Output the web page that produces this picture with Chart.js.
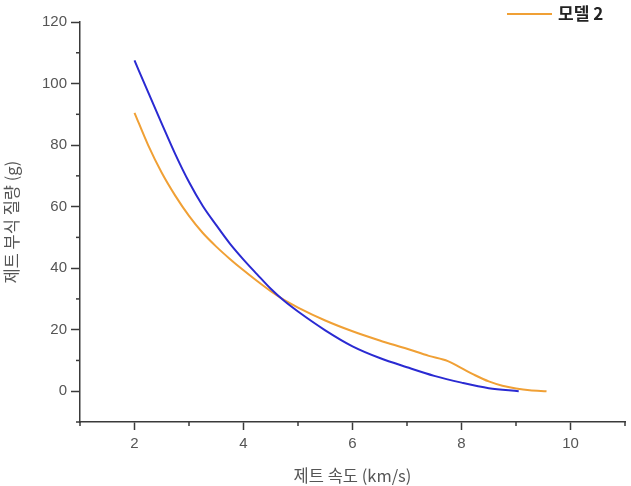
<!DOCTYPE html>
<html>
<head>
<meta charset="utf-8">
<script src="https://cdn.jsdelivr.net/npm/chart.js@4"></script>
<style>
  html, body { margin: 0; padding: 0; background: #fff; }
  #wrap { width: 631px; height: 486px; position: relative; }
</style>
</head>
<body>
<div id="wrap"><canvas id="c"></canvas></div>
<script>
// ---- data ----
const model1X = [2.0, 2.25, 2.5, 2.75, 3.0, 3.25, 3.5, 3.75, 4.0, 4.25, 4.5, 4.75, 5.0, 5.5, 6.0, 6.5, 7.0, 7.5, 8.0, 8.5, 9.05];
const model1Y = [107.5, 97.2, 87, 77, 68, 60.3, 54, 48, 42.8, 38, 33.3, 29.3, 25.9, 19.8, 14.6, 10.8, 7.8, 5, 2.8, 1.0, 0];
const model2X = [2.0, 2.25, 2.5, 2.75, 3.0, 3.25, 3.5, 3.75, 4.0, 4.25, 4.5, 4.75, 5.0, 5.5, 6.0, 6.5, 7.0, 7.4, 7.75, 8.0, 8.25, 8.5, 8.75, 9.0, 9.25, 9.56];
const model2Y = [90.5, 80, 71, 63.5, 57, 51.5, 47, 43, 39.3, 35.8, 32.5, 29.6, 27.2, 23, 19.5, 16.5, 13.8, 11.5, 9.8, 7.5, 5.2, 3.2, 1.8, 0.9, 0.3, 0];
const seriesNames = ['모델 1', '모델 2'];
const xTitle = '제트 속도 (km/s)';
const yTitle = '제트 부식 질량 (g)';
const xMajorTicks = [2, 4, 6, 8, 10];
const yMajorTicks = [0, 20, 40, 60, 80, 100, 120];

const toPts = (xs, ys) => xs.map((x, i) => ({ x: x, y: ys[i] }));

const axisColor = '#3a3a3a';
const tickFont = { family: 'Liberation Sans, Arial, sans-serif', size: 15 };
const titleFont = { family: 'Noto Sans CJK KR, sans-serif', size: 16.5 };

// minor ticks drawn halfway between major ticks using the scales
const minorTicks = {
  id: 'minorTicks',
  afterDraw(chart) {
    const ctx = chart.ctx;
    const xs = chart.scales.x, ys = chart.scales.y;
    ctx.save();
    ctx.strokeStyle = axisColor;
    ctx.lineWidth = 1.5;
    const xStep = xs.ticks[1].value - xs.ticks[0].value;
    for (let v = xs.ticks[0].value - xStep / 2; v <= xs.max + 1e-9; v += xStep) {
      if (v < xs.min - 1e-9) continue;
      const p = xs.getPixelForValue(v);
      ctx.beginPath(); ctx.moveTo(p, xs.top); ctx.lineTo(p, xs.top + 4); ctx.stroke();
    }
    const yStep = ys.ticks[1].value - ys.ticks[0].value;
    for (let v = ys.ticks[0].value - yStep / 2; v <= ys.max + 1e-9; v += yStep) {
      if (v < ys.min - 1e-9) continue;
      const p = ys.getPixelForValue(v);
      ctx.beginPath(); ctx.moveTo(ys.right, p); ctx.lineTo(ys.right - 4, p); ctx.stroke();
    }
    ctx.restore();
  }
};

// legend showing only the second series (as in the reference)
const legendPlugin = {
  id: 'singleLegend',
  afterDraw(chart) {
    const ds = chart.data.datasets[1];
    const ctx = chart.ctx;
    ctx.save();
    ctx.strokeStyle = ds.borderColor;
    ctx.lineWidth = 2;
    ctx.beginPath(); ctx.moveTo(507, 14); ctx.lineTo(552, 14); ctx.stroke();
    ctx.fillStyle = '#222';
    ctx.font = 'bold 17px "Noto Sans CJK KR", sans-serif';
    ctx.textBaseline = 'middle';
    ctx.textAlign = 'left';
    ctx.fillText(ds.label, 558, 14);
    ctx.restore();
  }
};

new Chart(document.getElementById('c'), {
  type: 'line',
  data: {
    datasets: [
      { label: seriesNames[0], data: toPts(model1X, model1Y), borderColor: '#2a2ad2', borderWidth: 2, pointRadius: 0, cubicInterpolationMode: 'monotone', fill: false },
      { label: seriesNames[1], data: toPts(model2X, model2Y), borderColor: '#f0a035', borderWidth: 2, pointRadius: 0, cubicInterpolationMode: 'monotone', fill: false }
    ]
  },
  options: {
    responsive: true,
    maintainAspectRatio: false,
    animation: false,
    layout: { padding: { top: 22, right: 6, bottom: 0, left: 0 } },
    plugins: { legend: { display: false }, tooltip: { enabled: false } },
    scales: {
      x: {
        type: 'linear', min: 1, max: 11,
        afterBuildTicks(s) { s.ticks = xMajorTicks.map(v => ({ value: v })); },
        ticks: { color: '#555', font: tickFont, padding: 5, maxRotation: 0 },
        grid: { drawOnChartArea: false, drawTicks: true, tickLength: 8, tickColor: axisColor, tickWidth: 1.5 },
        border: { display: true, color: axisColor, width: 1.5 },
        title: { display: true, text: xTitle, color: '#555', font: titleFont, padding: { top: 0, bottom: 0 } },
        afterFit(s) { s.height = 64; }
      },
      y: {
        min: -10, max: 120,
        afterBuildTicks(s) { s.ticks = yMajorTicks.map(v => ({ value: v })); },
        ticks: { color: '#555', font: tickFont, padding: 4 },
        grid: { drawOnChartArea: false, drawTicks: true, tickLength: 9, tickColor: axisColor, tickWidth: 1.5 },
        border: { display: true, color: axisColor, width: 1.5 },
        title: { display: true, text: yTitle, color: '#555', font: titleFont, padding: { top: 2, bottom: 0 } },
        afterFit(s) { s.width = 80; }
      }
    }
  },
  plugins: [minorTicks, legendPlugin]
});
</script>
</body>
</html>
